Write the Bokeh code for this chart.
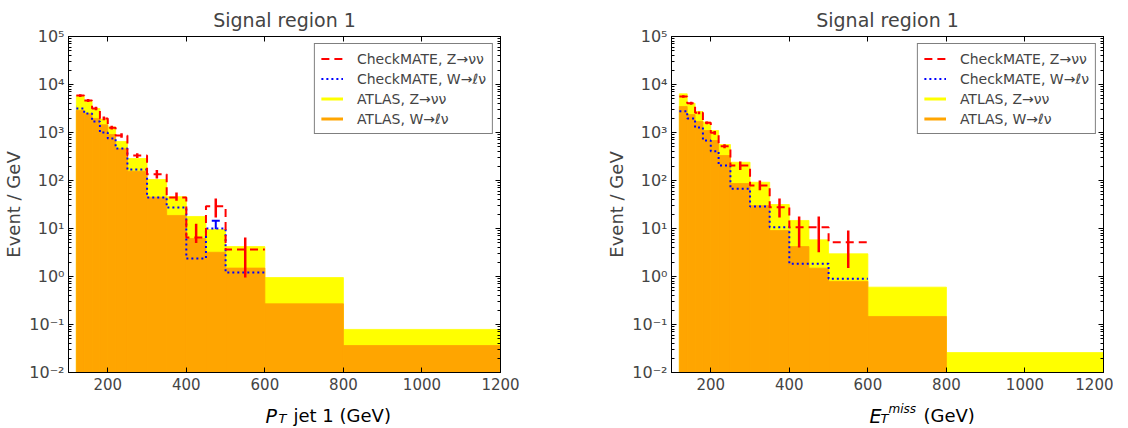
from bokeh.plotting import figure
from bokeh.layouts import row, column
from bokeh.models import (ColumnDataSource, FixedTicker, LogAxis, LinearAxis, Label,
                          Legend, LegendItem, Range1d, Whisker, TeeHead)
from bokeh.embed import file_html
from bokeh.resources import INLINE

# ---------------- data ----------------
bin_edges = [120, 140, 160, 180, 200, 220, 250, 300, 350, 400, 450, 500, 600, 800, 1200]
x_ticks = [200, 400, 600, 800, 1000, 1200]
y_ticks = [1e-2, 1e-1, 1e0, 1e1, 1e2, 1e3, 1e4, 1e5]
y_tick_labels = ["10⁻²", "10⁻¹", "10⁰", "10¹", "10²", "10³", "10⁴", "10⁵"]
title_text = "Signal region 1"
series_names = ["CheckMATE, Z→νν", "CheckMATE, W→ℓν", "ATLAS, Z→νν", "ATLAS, W→ℓν"]

# Left panel: leading jet pT
pt_atlas_z = [5900, 4640, 3160, 1900, 1300, 650, 287, 105, 46, 17.8, 9.5, 4.2, 0.95, 0.079]
pt_atlas_w = [2870, 2490, 1960, 1450, 909, 460, 156, 45, 18.7, 6.2, 3.2, 1.5, 0.27, 0.0365]
pt_cm_z = [5900, 4640, 3160, 1960, 1260, 866, 330, 135, 44, 6.5, 29, 3.65]
pt_cm_z_lo = [5500, 4300, 2900, 1800, 1150, 780, 295, 110, 38, 5.0, 17, 0.95]
pt_cm_z_hi = [6300, 5000, 3450, 2150, 1380, 960, 370, 165, 56, 12.6, 42, 6.5]
pt_cm_w = [3160, 2490, 1700, 1000, 750, 464, 169, 44, 27.4, 2.37, 10, 1.21]
pt_cm_w_lo = [2850, 2250, 1500, 870, 640, 370, 145, 35, 18.7, 2.0, 4.8, 1.0]
pt_cm_w_hi = [3500, 2750, 1900, 1150, 870, 490, 185, 53, 35, 4.8, 14.5, 2.4]

# Right panel: missing ET
met_atlas_z = [6400, 4070, 2740, 1640, 1100, 562, 240, 92, 31.6, 14.7, 5.8, 2.97, 0.60, 0.026]
met_atlas_w = [3480, 2370, 1700, 1100, 681, 332, 86.6, 30, 9.1, 4.2, 1.49, 0.79, 0.147, 0.008]
met_cm_z = [5620, 4070, 2570, 1590, 986, 518, 205, 79, 27.8, 10.6, 10.6, 5.2]
met_cm_z_lo = [5300, 3800, 2400, 1480, 900, 470, 165, 63, 17, 4.0, 3.2, 1.5]
met_cm_z_hi = [5950, 4350, 2750, 1700, 1080, 570, 250, 100, 42, 17.8, 17.8, 9.1]
met_cm_w = [2780, 1960, 1270, 681, 407, 205, 67, 28.7, 10.6, 1.84, 1.84, 0.90]
met_cm_w_lo = [2550, 1780, 1120, 590, 350, 180, 48, 19.5, 4.9, 1.6, 1.6, 0.8]
met_cm_w_hi = [3050, 2150, 1430, 780, 470, 235, 79, 38, 17.8, 2.1, 4.5, 2.0]

FONT = "DejaVu Sans"
RED = "#ff0000"
BLUE = "#0000ff"
YELLOW = "#ffff00"
ORANGE = "#ffa500"
NAN = float("nan")


def make_panel(atlas_z, atlas_w, cm_z, cm_z_lo, cm_z_hi, cm_w, cm_w_lo, cm_w_hi,
               border_left, border_right):
    p = figure(frame_width=432, frame_height=336,
               x_range=Range1d(100, 1200), y_range=Range1d(1e-2, 1e5),
               y_axis_type="log", output_backend="svg", toolbar_location=None,
               min_border_left=border_left, min_border_right=border_right,
               min_border_top=36, min_border_bottom=24)
    p.title.text = title_text
    p.title.align = "center"
    p.title.text_font = FONT
    p.title.text_font_size = "19px"
    p.title.text_font_style = "normal"
    p.title.standoff = 12
    p.xgrid.grid_line_color = None
    p.ygrid.grid_line_color = None
    p.outline_line_color = "black"
    p.outline_line_width = 1
    p.background_fill_color = "white"
    p.border_fill_color = "white"

    n = len(atlas_z)
    left = bin_edges[:-1]
    right = bin_edges[1:]
    floor = [1e-4] * n
    p.quad(left=left, right=right, bottom=floor, top=atlas_z, fill_color=YELLOW,
           line_color=YELLOW, line_width=0.8)
    p.quad(left=left, right=right, bottom=floor, top=atlas_w, fill_color=ORANGE,
           line_color=ORANGE, line_width=0.8)

    m = len(cm_z)
    xs = bin_edges[:m + 1]
    centers = [(bin_edges[i] + bin_edges[i + 1]) / 2 for i in range(m)]
    p.step(x=xs, y=list(cm_w) + [cm_w[-1]], mode="after", line_color=BLUE, line_width=2,
           line_dash="2 3")
    p.step(x=xs, y=list(cm_z) + [cm_z[-1]], mode="after", line_color=RED, line_width=2,
           line_dash="8 5")

    wsrc = ColumnDataSource(dict(x=centers, lo=cm_w_lo, hi=cm_w_hi))
    p.add_layout(Whisker(source=wsrc, base="x", lower="lo", upper="hi", line_color=BLUE,
                         line_width=2,
                         upper_head=TeeHead(size=8, line_color=BLUE, line_width=2),
                         lower_head=TeeHead(size=8, line_color=BLUE, line_width=2)))
    p.segment(x0=centers, y0=cm_z_lo, x1=centers, y1=cm_z_hi, line_color=RED, line_width=2.5)

    # legend proxies (no visible data)
    l1 = p.line(x=[NAN, NAN], y=[NAN, NAN], line_color=RED, line_width=2, line_dash="8 5")
    l2 = p.line(x=[NAN, NAN], y=[NAN, NAN], line_color=BLUE, line_width=2, line_dash="2 3")
    l3 = p.line(x=[NAN, NAN], y=[NAN, NAN], line_color=YELLOW, line_width=3)
    l4 = p.line(x=[NAN, NAN], y=[NAN, NAN], line_color=ORANGE, line_width=3)
    legend = Legend(items=[LegendItem(label=series_names[0], renderers=[l1]),
                           LegendItem(label=series_names[1], renderers=[l2]),
                           LegendItem(label=series_names[2], renderers=[l3]),
                           LegendItem(label=series_names[3], renderers=[l4])],
                    location="top_right", margin=7, padding=6, spacing=3,
                    glyph_width=22, glyph_height=17, label_height=17, label_standoff=14,
                    label_text_font=FONT, label_text_font_size="14px",
                    border_line_color="black", border_line_width=1,
                    background_fill_color="white", background_fill_alpha=1.0)
    p.add_layout(legend)

    # axes
    minor = [k * 10.0 ** e for e in range(-2, 5) for k in range(2, 10)]
    ylabels = {t: s for t, s in zip(y_ticks, y_tick_labels)}
    blank_y = {t: "" for t in y_ticks}
    blank_x = {t: "" for t in x_ticks}

    xa = p.xaxis[0]
    xa.ticker = FixedTicker(ticks=x_ticks)
    xa.major_tick_in = 5
    xa.major_tick_out = 0
    xa.minor_tick_in = 0
    xa.minor_tick_out = 0
    xa.major_label_text_font = FONT
    xa.major_label_text_font_size = "15px"
    xa.major_label_standoff = 5

    ya = p.yaxis[0]
    ya.ticker = FixedTicker(ticks=y_ticks, minor_ticks=minor)
    ya.major_label_overrides = ylabels
    ya.major_tick_in = 5
    ya.major_tick_out = 0
    ya.minor_tick_in = 3
    ya.minor_tick_out = 0
    ya.major_label_text_font = FONT
    ya.major_label_text_font_size = "16px"
    ya.major_label_standoff = 4
    ya.axis_label = "Event / GeV"
    ya.axis_label_text_font = FONT
    ya.axis_label_text_font_size = "18px"
    ya.axis_label_text_font_style = "normal"
    ya.axis_label_standoff = 2

    ra = LogAxis(ticker=FixedTicker(ticks=y_ticks, minor_ticks=minor),
                 major_label_overrides=blank_y, major_tick_in=5, major_tick_out=0,
                 minor_tick_in=3, minor_tick_out=0, major_label_text_font_size="0px",
                 major_label_standoff=0)
    p.add_layout(ra, "right")
    ta = LinearAxis(ticker=FixedTicker(ticks=x_ticks), major_label_overrides=blank_x,
                    major_tick_in=5, major_tick_out=0, minor_tick_in=0, minor_tick_out=0,
                    major_label_text_font_size="0px", major_label_standoff=0)
    p.add_layout(ta, "above")
    return p


def label_strip(border_left, border_right):
    f = figure(frame_width=432, frame_height=30, x_range=Range1d(0, 1), y_range=Range1d(0, 1),
               output_backend="svg", toolbar_location=None,
               x_axis_location=None, y_axis_location=None,
               min_border_left=border_left, min_border_right=border_right,
               min_border_top=0, min_border_bottom=0)
    f.outline_line_color = None
    f.xgrid.grid_line_color = None
    f.ygrid.grid_line_color = None
    f.background_fill_color = "white"
    f.border_fill_color = "white"
    return f


def lab(f, x, y, text, size, style="normal"):
    f.add_layout(Label(x=x, y=y, x_units="screen", y_units="screen", text=text,
                       text_font=FONT, text_font_size=size, text_font_style=style,
                       text_color="black", text_baseline="alphabetic", text_align="left"))


p1 = make_panel(pt_atlas_z, pt_atlas_w, pt_cm_z, pt_cm_z_lo, pt_cm_z_hi,
                pt_cm_w, pt_cm_w_lo, pt_cm_w_hi, 60, 40)
p2 = make_panel(met_atlas_z, met_atlas_w, met_cm_z, met_cm_z_lo, met_cm_z_hi,
                met_cm_w, met_cm_w_lo, met_cm_w_hi, 131, 10)

f1 = label_strip(60, 40)
lab(f1, 197, 11, "P", "19px", "italic")
lab(f1, 210, 8, "T", "13px", "italic")
lab(f1, 225, 11, "jet 1 (GeV)", "18px")

f2 = label_strip(131, 10)
lab(f2, 198, 11, "E", "19px", "italic")
lab(f2, 209, 8, "T", "13px", "italic")
lab(f2, 217, 18, "miss", "12px", "italic")
lab(f2, 252, 11, "(GeV)", "18px")

layout = row(column(p1, f1), column(p2, f2))
open("out.html", "w").write(file_html(layout, INLINE))
